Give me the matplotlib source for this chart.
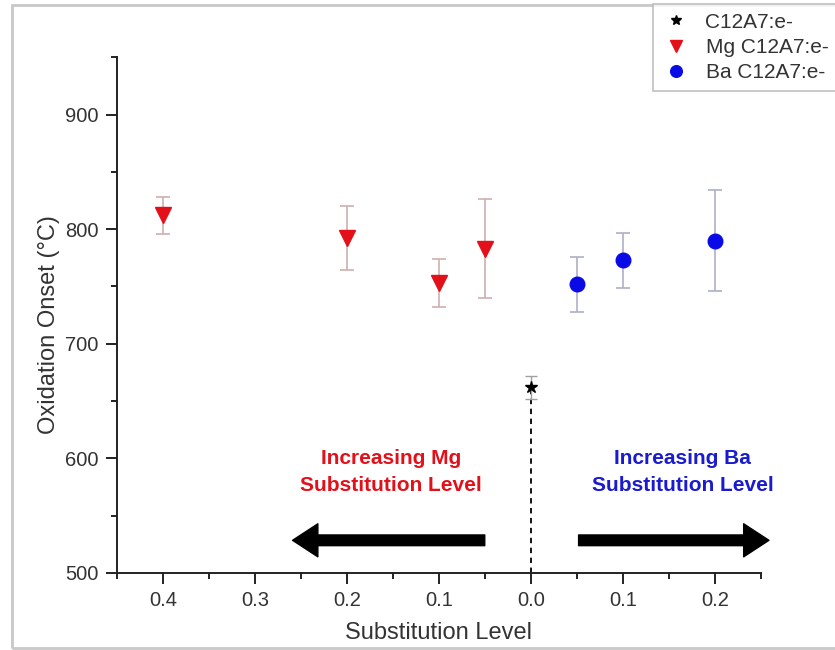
import matplotlib
matplotlib.use("Agg")
import matplotlib.pyplot as plt
from matplotlib.ticker import FuncFormatter, MultipleLocator
from matplotlib.patches import FancyArrowPatch, Rectangle
import numpy as np

plt.rcParams['font.family'] = ['Liberation Sans', 'DejaVu Sans']

# Mg-substituted samples are plotted on the negative side of the axis
mg_level = [0.4, 0.2, 0.1, 0.05]
mg_onset = [812, 792, 753, 783]
mg_err = [16, 28, 21, 43]

ba_level = [0.05, 0.1, 0.2]
ba_onset = [752, 773, 790]
ba_err = [24, 24, 44]

base_level = [0.0]
base_onset = [662]
base_err = [10]

fig = plt.figure(figsize=(8.35, 6.5), dpi=100)
ax = fig.add_axes([0.140, 0.1185, 0.771, 0.7935])

# outer frame of the figure
fig.patches.append(Rectangle((12 / 835, 2 / 650), 1.0, 643 / 650, transform=fig.transFigure,
                             fill=False, edgecolor='#c8c8c8', lw=2.0, clip_on=False))

mg_x = -np.array(mg_level)
ax.errorbar(base_level, base_onset, yerr=base_err, fmt='none', ecolor='#a0a0a0',
            elinewidth=1.0, capsize=4, capthick=1.0, zorder=2)
ax.errorbar(mg_x, mg_onset, yerr=mg_err, fmt='none', ecolor='#cdb0b0',
            elinewidth=1.2, capsize=5, capthick=1.2, zorder=2)
ax.errorbar(ba_level, ba_onset, yerr=ba_err, fmt='none', ecolor='#afafc8',
            elinewidth=1.2, capsize=5, capthick=1.2, zorder=2)

ax.plot([base_level[0], base_level[0]], [500, base_onset[0]], ls=(0, (3, 2.5)),
        color='black', lw=1.3, zorder=1)

ax.plot(base_level, base_onset, ls='none', marker='*', color='black', ms=9,
        label='C12A7:e-', zorder=3)
ax.plot(mg_x, mg_onset, ls='none', marker='v', color='#e3101a', ms=11,
        label='Mg C12A7:e-', zorder=3)
ax.plot(ba_level, ba_onset, ls='none', marker='o', color='#0a0ae6', ms=10.5,
        label='Ba C12A7:e-', zorder=3)

ax.set_xlim(-0.45, 0.25)
ax.set_ylim(500, 950)
ax.xaxis.set_major_locator(MultipleLocator(0.1))
ax.xaxis.set_minor_locator(MultipleLocator(0.05))
ax.yaxis.set_major_locator(MultipleLocator(100))
ax.yaxis.set_minor_locator(MultipleLocator(50))
ax.set_yticks([500, 600, 700, 800, 900])
ax.xaxis.set_major_formatter(FuncFormatter(lambda v, p: f"{abs(v):.1f}"))

for s in ['top', 'right']:
    ax.spines[s].set_visible(False)
for s in ['left', 'bottom']:
    ax.spines[s].set_linewidth(1.4)
    ax.spines[s].set_color('#222222')

ax.tick_params(axis='both', which='major', direction='out', length=8, width=1.4,
               labelsize=14.5, colors='#222222', pad=5)
ax.tick_params(axis='both', which='minor', direction='out', length=4.5, width=1.4,
               colors='#222222')
for lab in ax.get_xticklabels() + ax.get_yticklabels():
    lab.set_color('#333333')

ax.set_xlabel('Substitution Level', fontsize=17, color='#333333')
ax.set_ylabel('Oxidation Onset (°C)', fontsize=17, color='#333333')
ax.xaxis.set_label_coords(0.5, -0.095)
ax.yaxis.set_label_coords(-0.088, 0.482)

ax.text(-0.152, 588, 'Increasing Mg\nSubstitution Level', color='#e3101a',
        fontsize=15, fontweight='bold', ha='center', va='center', linespacing=1.55)
ax.text(0.165, 588, 'Increasing Ba\nSubstitution Level', color='#1a1ad0',
        fontsize=15, fontweight='bold', ha='center', va='center', linespacing=1.55)

arrow_style = 'simple,head_length=1.3,head_width=1.7,tail_width=0.55'
ax.add_patch(FancyArrowPatch((-0.047, 528.5), (-0.262, 528.5), arrowstyle=arrow_style,
                             mutation_scale=14, color='black', clip_on=False))
ax.add_patch(FancyArrowPatch((0.049, 528.5), (0.262, 528.5), arrowstyle=arrow_style,
                             mutation_scale=14, color='black', clip_on=False))

leg = fig.legend(loc='upper left', bbox_to_anchor=(643 / 835, 1.0 + 6 / 650),
                 fontsize=15, frameon=True, fancybox=False, edgecolor='#b0b0b0',
                 handletextpad=0.7, labelspacing=0.3, borderpad=0.4,
                 handlelength=1.4, markerscale=0.8)
leg.get_frame().set_linewidth(1.2)
for t in leg.get_texts():
    t.set_color('#333333')

fig.savefig('out.png', dpi=100)
